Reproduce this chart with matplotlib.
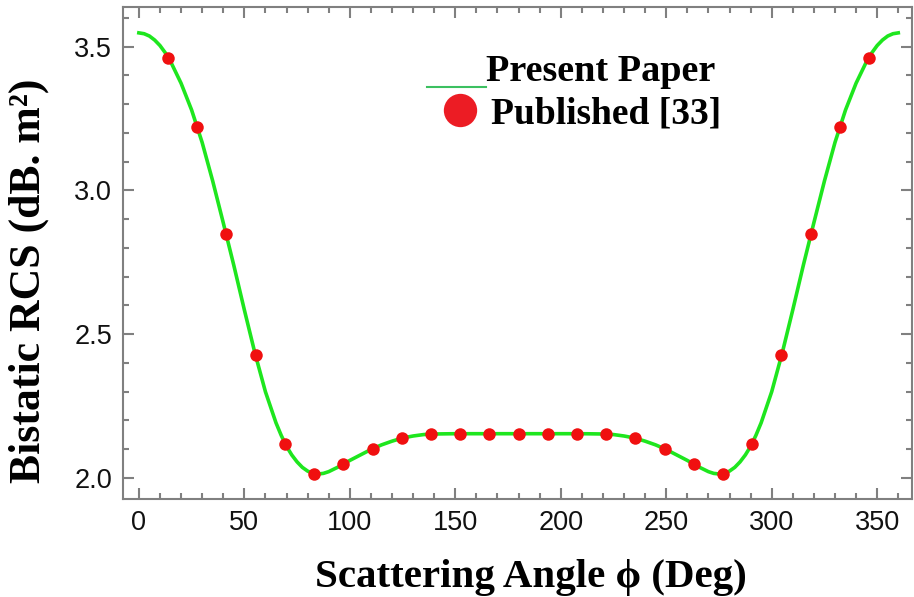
import numpy as np
import matplotlib.pyplot as plt
from matplotlib.lines import Line2D
from matplotlib.ticker import MultipleLocator

# present paper curve
phi_line = [0, 2.5, 5, 7.5, 10, 12.5, 15, 20, 25, 30, 35, 40, 45, 50, 55, 60, 65, 67.5,
            70, 72.5, 75, 77.5, 80, 82.5, 85, 87.5, 90, 95, 100, 105, 110, 115, 120, 125,
            130, 135, 140, 150, 160, 170, 180, 190, 200, 210, 220, 225, 230, 235, 240,
            245, 250, 255, 260, 265, 270, 272.5, 275, 277.5, 280, 282.5, 285, 287.5,
            290, 292.5, 295, 300, 305, 310, 315, 320, 325, 330, 335, 340, 345, 347.5,
            350, 352.5, 355, 357.5, 360]
rcs_line = [3.548, 3.545, 3.537, 3.523, 3.504, 3.479, 3.449, 3.373, 3.280, 3.167,
            3.033, 2.888, 2.740, 2.585, 2.435, 2.300, 2.192, 2.148, 2.110, 2.080,
            2.056, 2.037, 2.024, 2.016, 2.014, 2.016, 2.022, 2.040, 2.061, 2.080,
            2.099, 2.115, 2.128, 2.139, 2.146, 2.151, 2.153, 2.154, 2.154, 2.154,
            2.154, 2.154, 2.154, 2.154, 2.153, 2.151, 2.146, 2.139, 2.128, 2.115,
            2.099, 2.080, 2.061, 2.040, 2.022, 2.016, 2.014, 2.016, 2.024, 2.037,
            2.056, 2.080, 2.110, 2.148, 2.192, 2.300, 2.435, 2.585, 2.740, 2.888,
            3.033, 3.167, 3.280, 3.373, 3.449, 3.479, 3.504, 3.523, 3.537, 3.545,
            3.548]

# published [33] points
phi_pub = [13.8, 27.7, 41.5, 55.4, 69.2, 83.1, 96.9, 110.8, 124.6, 138.5, 152.3, 166.2,
           180.0, 193.8, 207.7, 221.5, 235.4, 249.2, 263.1, 276.9, 290.8, 304.6, 318.5,
           332.3, 346.2]
rcs_pub = [3.462, 3.220, 2.847, 2.426, 2.118, 2.015, 2.050, 2.102, 2.138, 2.153, 2.153,
           2.153, 2.153, 2.153, 2.153, 2.153, 2.138, 2.102, 2.050, 2.015, 2.118, 2.426,
           2.847, 3.220, 3.462]

serif = ['Liberation Serif', 'DejaVu Serif']
plt.rcParams['font.family'] = ['Liberation Sans', 'DejaVu Sans']

fig = plt.figure(figsize=(9.14, 5.97), dpi=100)
ax = fig.add_axes([0.1346, 0.1642, 0.8632, 0.8241])

ax.plot(phi_line, rcs_line, color='#1ee61e', lw=2.6, zorder=2)
ax.plot(phi_pub, rcs_pub, 'o', color='#f01010', ms=9, mec='none', zorder=3)

ax.set_xlim(-7.5, 366.5)
ax.set_ylim(1.927, 3.638)
ax.xaxis.set_major_locator(MultipleLocator(50))
ax.xaxis.set_minor_locator(MultipleLocator(10))
ax.yaxis.set_major_locator(MultipleLocator(0.5))
ax.yaxis.set_minor_locator(MultipleLocator(0.1))
ax.yaxis.set_major_formatter(plt.FormatStrFormatter('%.1f'))

gray = '#808080'
for s in ax.spines.values():
    s.set_color(gray)
    s.set_linewidth(1.5)
ax.tick_params(which='both', direction='in', top=True, right=True, color=gray, width=1.5)
ax.tick_params(which='major', length=8, labelsize=19.5, pad=8, labelcolor='#111111')
ax.tick_params(which='minor', length=4.5)

ax.set_xlabel('Scattering Angle ϕ (Deg)', family=serif, fontweight='bold', fontsize=29.5)
ax.set_ylabel('Bistatic RCS (dB. m²)', family=serif, fontweight='bold', fontsize=31.5)
ax.xaxis.set_label_coords(0.517, -0.122)
ax.yaxis.set_label_coords(-0.094, 0.443)

# legend drawn by hand to keep the odd layout of the original
ax.add_line(Line2D([0.385, 0.460], [0.837, 0.837], transform=ax.transAxes, color='#3cc060', lw=1.5))
ax.add_line(Line2D([0.427], [0.791], transform=ax.transAxes, marker='o', ms=24, color='#ec1c24', mec='none'))
ax.text(0.460, 0.850, 'Present Paper', transform=ax.transAxes, family=serif,
        fontweight='bold', fontsize=27.5, va='baseline')
ax.text(0.466, 0.764, 'Published [33]', transform=ax.transAxes, family=serif,
        fontweight='bold', fontsize=27, va='baseline')

fig.savefig('out.png', dpi=100)
